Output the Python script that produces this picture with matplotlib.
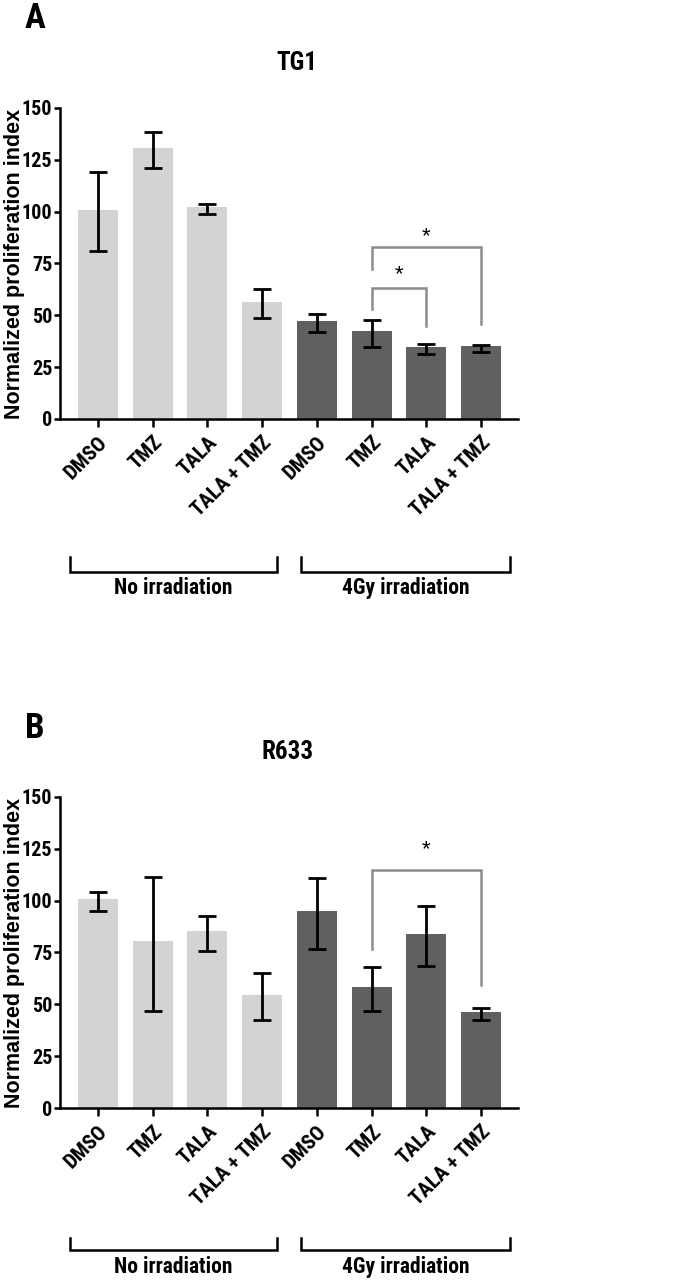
import numpy as np
import matplotlib
matplotlib.use('Agg')
import matplotlib.pyplot as plt
import matplotlib.transforms as mtransforms

# 폰트 설정 (좁은 굵은 글꼴)
plt.rcParams['font.family'] = ['Roboto Condensed', 'DejaVu Sans']
plt.rcParams['font.weight'] = 'bold'

# 데이터
treatments = ['DMSO', 'TMZ', 'TALA', 'TALA + TMZ', 'DMSO', 'TMZ', 'TALA', 'TALA + TMZ']
groups = ['No irradiation', '4Gy irradiation']

tg1_mean = [101.0, 130.7, 102.3, 56.6, 47.3, 42.3, 34.7, 35.0]
tg1_upper = [119.0, 138.3, 103.7, 62.7, 50.6, 47.9, 36.3, 35.9]
tg1_lower = [80.9, 121.0, 98.9, 48.7, 42.1, 34.6, 31.4, 32.2]

r633_mean = [100.6, 80.3, 85.4, 54.6, 95.0, 58.6, 84.0, 46.2]
r633_upper = [104.3, 111.2, 92.6, 65.0, 110.9, 68.2, 97.4, 48.3]
r633_lower = [95.2, 47.0, 75.9, 42.5, 76.7, 47.0, 68.5, 42.5]

# 유의성 표시: (왼쪽, 오른쪽, 가로선 높이, 왼쪽 다리 끝, 오른쪽 다리 끝, 별 높이)
tg1_sig = [(5, 7, 82.8, 72.3, 46.0, 88.0),
           (5, 6, 63.2, 53.0, 45.0, 69.6)]
r633_sig = [(5, 7, 114.8, 76.6, 59.4, 124.7)]

light = '#d3d3d3'
dark = '#606060'
colors = [light] * 4 + [dark] * 4

fig = plt.figure(figsize=(6.85, 12.81), dpi=100)


def draw_panel(ax, mean, upper, lower, sig, title, letter, title_xy, letter_xy, brk):
    x = np.arange(len(mean))
    mean = np.array(mean)
    yerr = [mean - np.array(lower), np.array(upper) - mean]
    ax.bar(x, mean, width=0.73, color=colors, zorder=1)
    ax.errorbar(x, mean, yerr=yerr, fmt='none', ecolor='black',
                elinewidth=2.0, capsize=6.5, capthick=2.0, zorder=3)

    ax.set_xlim(-0.69, 7.675)
    ax.set_ylim(0, 150)
    ax.set_yticks([0, 25, 50, 75, 100, 125, 150])
    ax.set_xticks(x)
    ax.set_xticklabels(treatments, rotation=45, ha='right', rotation_mode='anchor',
                       fontsize=15, fontweight='bold')
    for lab in ax.get_yticklabels():
        lab.set_fontsize(14.5)
        lab.set_fontweight('bold')
    ax.tick_params(axis='y', length=4, width=1.8, pad=1.5)
    ax.tick_params(axis='x', length=6, width=1.8, pad=4)
    for s in ['top', 'right']:
        ax.spines[s].set_visible(False)
    for s in ['left', 'bottom']:
        ax.spines[s].set_linewidth(1.8)

    # y축 제목 (중앙 정렬)
    ax.set_ylabel('Normalized proliferation index', fontsize=15.5, fontweight='bold',
                  family=['Liberation Sans', 'DejaVu Sans'], va='center')
    ax.yaxis.set_label_coords(-0.1, 0.5)

    # 유의성 괄호
    for i, j, yb, yl, yr, ys in sig:
        ax.plot([i, i, j, j], [yl, yb, yb, yr], color='#8c8c8c', lw=1.8,
                solid_joinstyle='miter', zorder=2, clip_on=False)
        ax.text((i + j) / 2, ys, '*', ha='center', va='center', fontsize=16,
                fontweight='normal', family=['Liberation Sans', 'DejaVu Sans'])

    # 그룹 괄호
    trans = mtransforms.blended_transform_factory(ax.transData, ax.transAxes)
    y_line, y_top, y_text = brk
    for (x0, x1), name in zip([(-0.51, 3.28), (3.72, 7.52)], groups):
        ax.plot([x0, x0, x1, x1], [y_top, y_line, y_line, y_top], color='black',
                lw=1.8, transform=trans, clip_on=False, solid_joinstyle='miter')
        ax.text((x0 + x1) / 2, y_text, name, ha='center', va='center',
                fontsize=15.5, fontweight='bold', transform=trans)

    fig.text(title_xy[0], title_xy[1], title, ha='center', va='center',
             fontsize=18, fontweight='bold')
    fig.text(letter_xy[0], letter_xy[1], letter, ha='center', va='center',
             fontsize=25, fontweight='bold')


ax1 = fig.add_axes([60 / 685, 1 - 419 / 1281, 458 / 685, 311 / 1281])
draw_panel(ax1, tg1_mean, tg1_upper, tg1_lower, tg1_sig, 'TG1', 'A',
           (297 / 685, 1 - 63 / 1281), (35 / 685, 1 - 18 / 1281),
           (-0.492, -0.444, -0.543))

ax2 = fig.add_axes([60 / 685, 1 - 1108.3 / 1281, 458 / 685, 311.6 / 1281])
draw_panel(ax2, r633_mean, r633_upper, r633_lower, r633_sig, 'R633', 'B',
           (288 / 685, 1 - 752 / 1281), (35 / 685, 1 - 729 / 1281),
           (-0.455, -0.416, -0.51))

plt.savefig('out.png', dpi=100)
